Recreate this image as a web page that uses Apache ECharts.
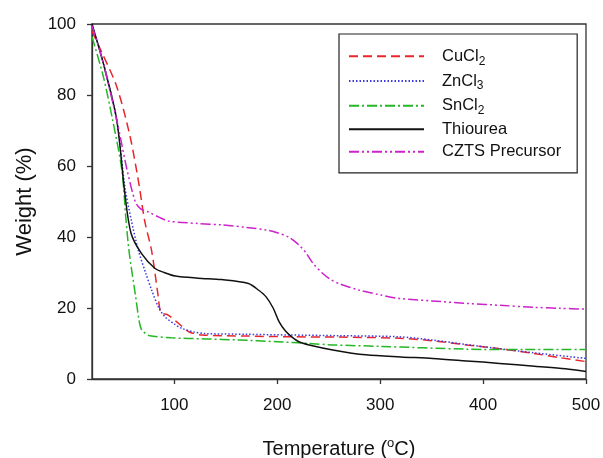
<!DOCTYPE html>
<html lang="en">

<head>
  <script src="https://cdn.jsdelivr.net/npm/echarts@6.0.0/dist/echarts.min.js"></script>
</head>

<body style="margin:0;background:#fff;">
  <div id="tgaChart" style="width: 603px;height:458px;"></div>

  <script type="text/javascript">

    // values (temperature in degC, weight in %)
    var cuTemp = [20, 30, 44, 57, 66, 71, 78, 84, 87, 94, 104, 114, 127, 170, 211, 260, 318, 350, 384, 420, 449, 475, 500];
    var cuWeight = [98, 91.7, 82.4, 68.3, 54.2, 44.8, 36, 24, 18.8, 18, 15.7, 13.3, 12.4, 12.1, 11.9, 11.8, 11.5, 10.8, 9.6, 8.4, 7.2, 6, 4.9];

    var znTemp = [20, 31, 44, 52, 58, 65, 72, 78, 85, 91, 100, 107, 118, 130, 170, 211, 260, 318, 350, 400, 449, 500];
    var znWeight = [100, 89, 73, 54, 45, 36.3, 30, 25, 20, 17.5, 15.5, 14.3, 13.3, 12.8, 12.6, 12.4, 12.2, 11.9, 11, 9.1, 7.4, 5.8];

    var snTemp = [20, 31, 40, 49, 53, 56, 62, 66, 68, 72, 76, 97, 130, 162, 200, 231, 254, 300, 384, 440, 500];
    var snWeight = [96.4, 85.2, 73, 58.9, 45, 36, 24, 16, 14, 12.8, 12.2, 11.6, 11.3, 11, 10.5, 10, 9.6, 9.2, 8.4, 8.3, 8.3];

    var thioTemp = [20, 31, 44, 52, 58, 68, 81, 90, 101, 123, 146, 172, 182, 189, 196, 202, 208, 214, 221, 231, 254, 286, 320, 351, 384, 416, 450, 480, 500];
    var thioWeight = [100, 88.9, 73, 52, 41, 35.4, 31.2, 30, 29, 28.4, 28, 26.9, 25, 23.2, 20, 16, 13.5, 11.9, 10.5, 9.6, 8.2, 6.8, 6.2, 5.8, 5.1, 4.4, 3.6, 2.9, 2.1];

    var cztsTemp = [20, 30, 44, 54, 62, 67, 75, 85, 94, 123, 146, 170, 189, 200, 211, 215, 222, 228, 235, 244, 252, 260, 280, 300, 318, 350, 384, 420, 449, 475, 500];
    var cztsWeight = [99.5, 90, 73, 59, 50, 48, 47, 45.6, 44.5, 43.8, 43.4, 42.7, 42, 41.2, 40, 39.2, 37.5, 35.5, 32.5, 29.8, 28, 26.9, 25, 23.7, 22.7, 22, 21.3, 20.7, 20.2, 19.9, 19.7];

    var seriesNames = ['CuCl2', 'ZnCl3', 'SnCl2', 'Thiourea', 'CZTS Precursor'];
    var xTicks = [100, 200, 300, 400, 500];

    function pairs(t, w) {
        return t.map(function (v, i) { return [v, w[i]]; });
    }

    function makeLine(name, t, w, color, dash) {
        return {
            name: name,
            type: 'line',
            data: pairs(t, w),
            symbol: 'none',
            smooth: 0.3,
            lineStyle: { color: color, width: 1.5, type: dash },
            itemStyle: { color: color }
        };
    }

    var chart = echarts.init(document.getElementById('tgaChart'));
    var font = 'Liberation Sans, Arial, sans-serif';

    var option = {
        backgroundColor: '#fff',
        animation: false,
        grid: {
            left: 92, right: 17, top: 24, bottom: 79,
            outerBoundsMode: 'none',
            show: true, borderColor: '#333', borderWidth: 1.3
        },
        legend: {
            orient: 'vertical',
            left: 339,
            top: 34,
            padding: [7, 16, 7, 9],
            borderColor: '#222',
            borderWidth: 1.2,
            itemWidth: 75,
            itemHeight: 12,
            itemGap: -6,
            data: seriesNames,
            itemStyle: { opacity: 0 },
            formatter: function (name) {
                return name.replace(/(\d)$/, '{sub|$1}');
            },
            textStyle: {
                fontFamily: font, fontSize: 16.5, color: '#111',
                lineHeight: 20,
                padding: [0, 0, 0, 13],
                rich: {
                    sub: { fontFamily: font, fontSize: 12, color: '#111', lineHeight: 12, padding: [10, 0, 0, 0] }
                }
            }
        },
        xAxis: {
            type: 'value',
            min: 20,
            max: 500,
            name: 'Temperature ({sup|o}C)',
            nameLocation: 'middle',
            nameGap: 53,
            nameTextStyle: {
                fontFamily: font, fontSize: 20, color: '#111',
                rich: { sup: { fontFamily: font, fontSize: 13, color: '#111', padding: [0, 0, 12, 0] } }
            },
            axisLine: { lineStyle: { color: '#333', width: 1.3 } },
            axisTick: { customValues: xTicks, length: 5, lineStyle: { color: '#333', width: 1.3 } },
            axisLabel: { customValues: xTicks, margin: 12, fontFamily: font, fontSize: 17, color: '#111' },
            splitLine: { show: false }
        },
        yAxis: {
            type: 'value',
            min: 0,
            max: 100,
            interval: 20,
            name: 'Weight (%)',
            nameLocation: 'middle',
            nameGap: 48,
            nameMoveOverlap: false,
            nameTextStyle: { fontFamily: font, fontSize: 22, color: '#111' },
            axisLine: { show: true, lineStyle: { color: '#333', width: 1.3 } },
            axisTick: { show: true, length: 5, lineStyle: { color: '#333', width: 1.3 } },
            axisLabel: { margin: 16, fontFamily: font, fontSize: 17, color: '#111' },
            splitLine: { show: false }
        },
        series: [
            makeLine(seriesNames[0], cuTemp, cuWeight, '#e8262b', [9, 5]),
            makeLine(seriesNames[1], znTemp, znWeight, '#3a3ae0', [1.5, 2]),
            makeLine(seriesNames[2], snTemp, snWeight, '#24b824', [10, 3, 2, 3]),
            makeLine(seriesNames[3], thioTemp, thioWeight, '#111111', 'solid'),
            makeLine(seriesNames[4], cztsTemp, cztsWeight, '#cc22cc', [10, 3, 2, 3, 2, 3])
        ]
    };

    chart.setOption(option);
  </script>
</body>

</html>
